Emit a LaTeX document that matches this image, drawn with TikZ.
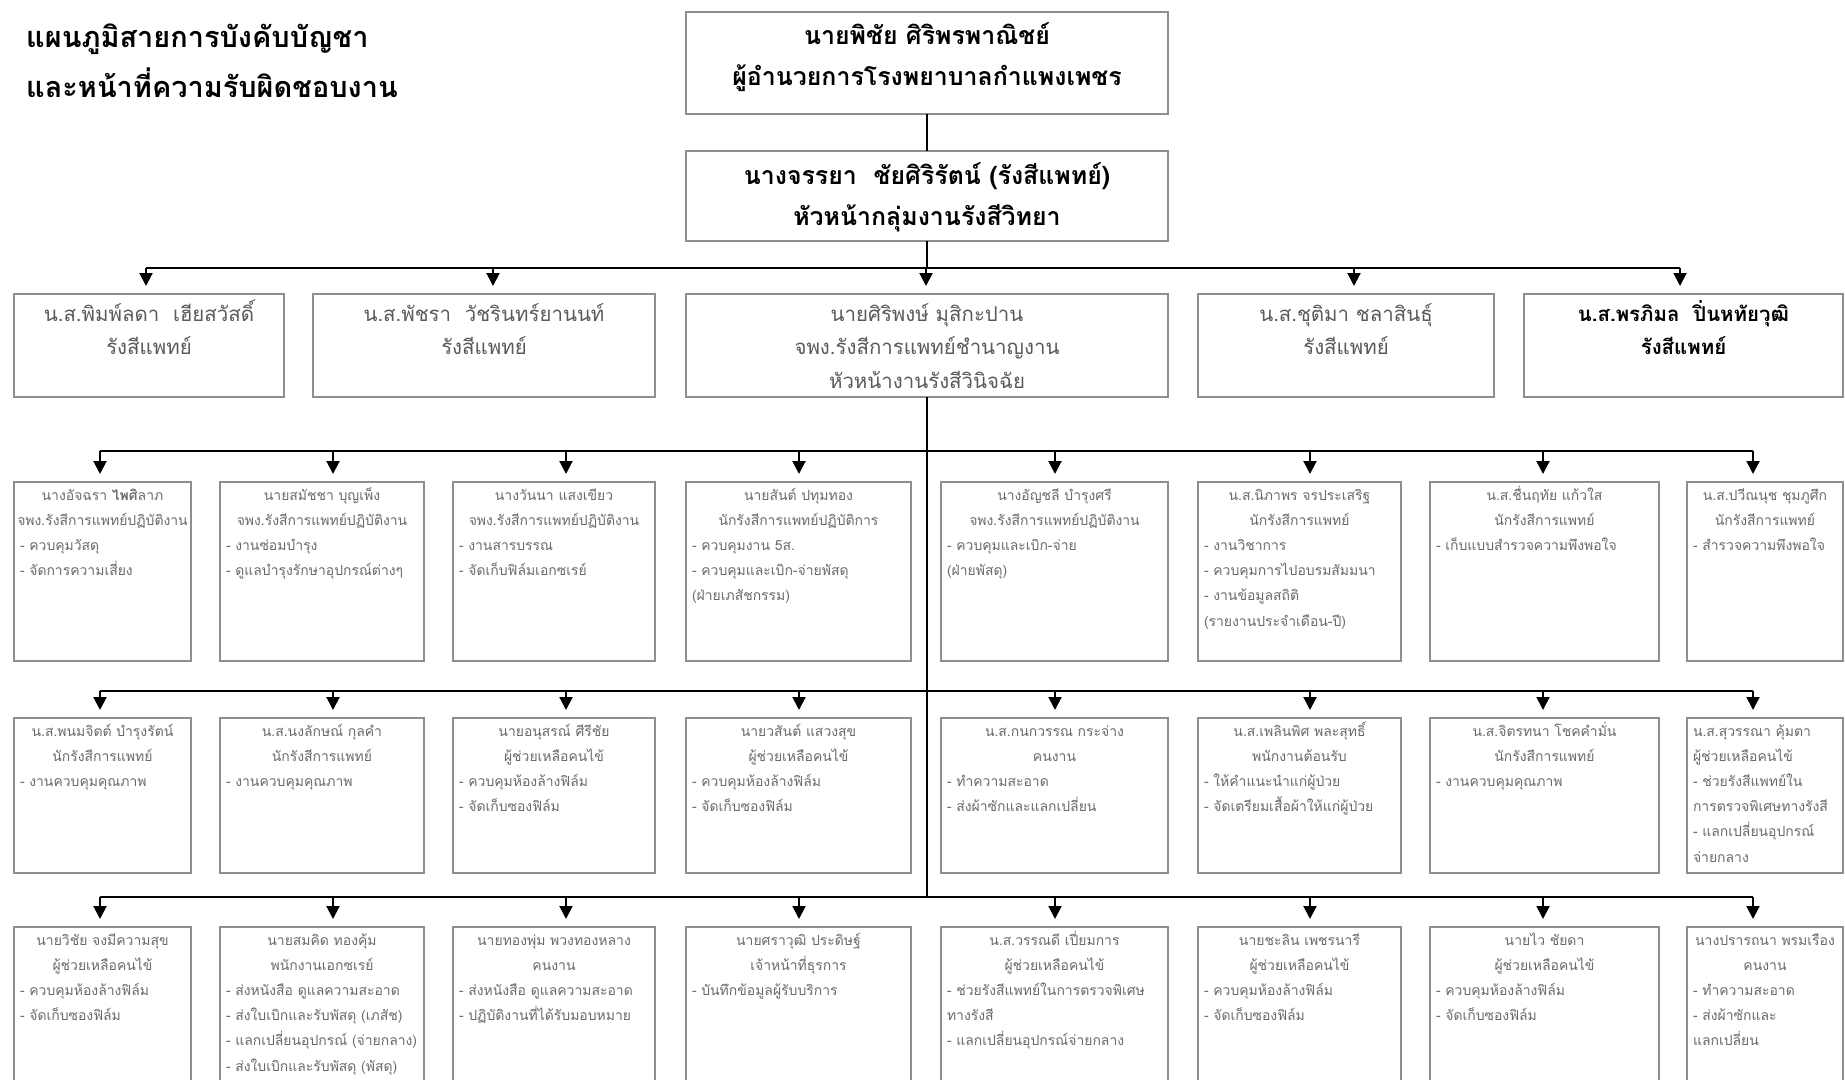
\documentclass[tikz,border=0pt]{standalone}
\usepackage{fontspec}
\setmainfont[Script=Thai]{Loma}
\usetikzlibrary{arrows.meta}

\definecolor{boxgray}{HTML}{8E8E8E}
\definecolor{midgray}{HTML}{5A5A5A}
\definecolor{smallgray}{HTML}{6A6A6A}

\tikzset{
  bus/.style={line width=2bp, draw=black},
  drop/.style={line width=2bp, draw=black, -{Triangle[width=13bp,length=13bp]}, shorten >=8bp},
  cellbox/.style={draw=boxgray, line width=1.6bp, inner sep=0pt, outer sep=0pt, anchor=north west, fill=white},
}

% text settings
\newcommand\titlefont{\fontsize{29}{50}\selectfont\bfseries}
\newcommand\headfont{\fontsize{25}{42}\selectfont\bfseries}
\newcommand\unitfont{\color{midgray}\fontsize{20.5}{34}\selectfont}
\newcommand\staffont{\color{smallgray}\fontsize{14}{25.3}\selectfont}

% large box: name, left, top, width, height, font, first baseline, centred lines
\newcommand\bigcell[8]{%
  \node[cellbox] (#1) at (#2,#3)
    {\parbox[t][#5bp][t]{#4bp}{#6\centering\rule{0pt}{#7bp}#8\par}};}

% staff box: name, left, top, width, height, centred header, list
\newcommand\staff[7]{%
  \node[cellbox] (#1) at (#2,#3)
    {\parbox[t][#5bp][t]{#4bp}{\staffont
      {\centering\rule{0pt}{18bp}#6\par}%
      {\raggedright\leftskip=6bp\relax #7\par}}};}

% staff box with every line flush left
\newcommand\staffleft[6]{%
  \node[cellbox] (#1) at (#2,#3)
    {\parbox[t][#5bp][t]{#4bp}{\staffont
      {\raggedright\leftskip=6bp\relax\rule{0pt}{18bp}#6\par}}};}

\begin{document}
\begin{tikzpicture}[x=1bp,y=-1bp]
\useasboundingbox (0,0) rectangle (1845,1079);
\clip (0,0) rectangle (1845,1079);

% heading
\node[anchor=base west, inner sep=0pt] (title1) at (26,47) {\titlefont แผนภูมิสายการบังคับบัญชา};
\node[anchor=base west, inner sep=0pt] (title2) at (26,97) {\titlefont และหน้าที่ความรับผิดชอบงาน};

% director and head of group
\bigcell{dir}{686}{12}{482}{102}{\headfont}{32}{นายพิชัย ศิริพรพาณิชย์\\ผู้อำนวยการโรงพยาบาลกำแพงเพชร}
\bigcell{head}{686}{151}{482}{90}{\headfont}{33}{นางจรรยา\ \ ชัยศิริรัตน์ (รังสีแพทย์)\\หัวหน้ากลุ่มงานรังสีวิทยา}

% radiologists and section head
\bigcell{uA}{14}{294}{270}{103}{\unitfont}{27}{น.ส.พิมพ์ลดา\ \ เฮียสวัสดิ์\\รังสีแพทย์}
\bigcell{uB}{313}{294}{342}{103}{\unitfont}{27}{น.ส.พัชรา\ \ วัชรินทร์ยานนท์\\รังสีแพทย์}
\bigcell{uC}{686}{294}{482}{103}{\unitfont}{27}{นายศิริพงษ์ มุสิกะปาน\\จพง.รังสีการแพทย์ชำนาญงาน\\หัวหน้างานรังสีวินิจฉัย}
\bigcell{uD}{1198}{294}{296}{103}{\unitfont}{27}{น.ส.ชุติมา ชลาสินธุ์\\รังสีแพทย์}
\bigcell{uE}{1524}{294}{319}{103}{\fontsize{20.5}{34}\selectfont\bfseries}{27}{น.ส.พรภิมล\ \ ปิ่นหทัยวุฒิ\\รังสีแพทย์}

% first staff row
\staff{r1a}{14}{482}{177}{179}{นางอัจฉรา \textbf{ไพศิ}ลาภ\\จพง.รังสีการแพทย์ปฏิบัติงาน}{- ควบคุมวัสดุ\\- จัดการความเสี่ยง}
\staff{r1b}{220}{482}{204}{179}{นายสมัชชา บุญเพ็ง\\จพง.รังสีการแพทย์ปฏิบัติงาน}{- งานซ่อมบำรุง\\- ดูแลบำรุงรักษาอุปกรณ์ต่างๆ}
\staff{r1c}{453}{482}{202}{179}{นางวันนา แสงเขียว\\จพง.รังสีการแพทย์ปฏิบัติงาน}{- งานสารบรรณ\\- จัดเก็บฟิล์มเอกซเรย์}
\staff{r1d}{686}{482}{225}{179}{นายสันต์ ปทุมทอง\\นักรังสีการแพทย์ปฏิบัติการ}{- ควบคุมงาน 5ส.\\- ควบคุมและเบิก-จ่ายพัสดุ\\(ฝ่ายเภสัชกรรม)}
\staff{r1e}{941}{482}{227}{179}{นางอัญชลี บำรุงศรี\\จพง.รังสีการแพทย์ปฏิบัติงาน}{- ควบคุมและเบิก-จ่าย\\(ฝ่ายพัสดุ)}
\staff{r1f}{1198}{482}{203}{179}{น.ส.นิภาพร จรประเสริฐ\\นักรังสีการแพทย์}{- งานวิชาการ\\- ควบคุมการไปอบรมสัมมนา\\- งานข้อมูลสถิติ\\(รายงานประจำเดือน-ปี)}
\staff{r1g}{1430}{482}{229}{179}{น.ส.ชื่นฤทัย แก้วใส\\นักรังสีการแพทย์}{- เก็บแบบสำรวจความพึงพอใจ}
\staff{r1h}{1687}{482}{156}{179}{น.ส.ปวีณนุช ชุมภูศึก\\นักรังสีการแพทย์}{- สำรวจความพึงพอใจ}

% second staff row
\staff{r2a}{14}{718}{177}{155}{น.ส.พนมจิตต์ บำรุงรัตน์\\นักรังสีการแพทย์}{- งานควบคุมคุณภาพ}
\staff{r2b}{220}{718}{204}{155}{น.ส.นงลักษณ์ กุลคำ\\นักรังสีการแพทย์}{- งานควบคุมคุณภาพ}
\staff{r2c}{453}{718}{202}{155}{นายอนุสรณ์ ศีรีชัย\\ผู้ช่วยเหลือคนไข้}{- ควบคุมห้องล้างฟิล์ม\\- จัดเก็บซองฟิล์ม}
\staff{r2d}{686}{718}{225}{155}{นายวสันต์ แสวงสุข\\ผู้ช่วยเหลือคนไข้}{- ควบคุมห้องล้างฟิล์ม\\- จัดเก็บซองฟิล์ม}
\staff{r2e}{941}{718}{227}{155}{น.ส.กนกวรรณ กระจ่าง\\คนงาน}{- ทำความสะอาด\\- ส่งผ้าซักและแลกเปลี่ยน}
\staff{r2f}{1198}{718}{203}{155}{น.ส.เพลินพิศ พละสุทธิ์\\พนักงานต้อนรับ}{- ให้คำแนะนำแก่ผู้ป่วย\\- จัดเตรียมเสื้อผ้าให้แก่ผู้ป่วย}
\staff{r2g}{1430}{718}{229}{155}{น.ส.จิตรทนา โชคคำมั่น\\นักรังสีการแพทย์}{- งานควบคุมคุณภาพ}
\staffleft{r2h}{1687}{718}{156}{155}{น.ส.สุวรรณา คุ้มตา\\ผู้ช่วยเหลือคนไข้\\- ช่วยรังสีแพทย์ใน\\การตรวจพิเศษทางรังสี\\- แลกเปลี่ยนอุปกรณ์\\จ่ายกลาง}

% third staff row
\staff{r3a}{14}{927}{177}{170}{นายวิชัย จงมีความสุข\\ผู้ช่วยเหลือคนไข้}{- ควบคุมห้องล้างฟิล์ม\\- จัดเก็บซองฟิล์ม}
\staff{r3b}{220}{927}{204}{170}{นายสมคิด ทองคุ้ม\\พนักงานเอกซเรย์}{- ส่งหนังสือ ดูแลความสะอาด\\- ส่งใบเบิกและรับพัสดุ (เภสัช)\\- แลกเปลี่ยนอุปกรณ์ (จ่ายกลาง)\\- ส่งใบเบิกและรับพัสดุ (พัสดุ)}
\staff{r3c}{453}{927}{202}{170}{นายทองพุ่ม พวงทองหลาง\\คนงาน}{- ส่งหนังสือ ดูแลความสะอาด\\- ปฏิบัติงานที่ได้รับมอบหมาย}
\staff{r3d}{686}{927}{225}{170}{นายศราวุฒิ ประดิษฐ์\\เจ้าหน้าที่ธุรการ}{- บันทึกข้อมูลผู้รับบริการ}
\staff{r3e}{941}{927}{227}{170}{น.ส.วรรณดี เปี่ยมการ\\ผู้ช่วยเหลือคนไข้}{- ช่วยรังสีแพทย์ในการตรวจพิเศษ\\ทางรังสี\\- แลกเปลี่ยนอุปกรณ์จ่ายกลาง}
\staff{r3f}{1198}{927}{203}{170}{นายชะลิน เพชรนารี\\ผู้ช่วยเหลือคนไข้}{- ควบคุมห้องล้างฟิล์ม\\- จัดเก็บซองฟิล์ม}
\staff{r3g}{1430}{927}{229}{170}{นายไว ชัยดา\\ผู้ช่วยเหลือคนไข้}{- ควบคุมห้องล้างฟิล์ม\\- จัดเก็บซองฟิล์ม}
\staff{r3h}{1687}{927}{156}{170}{นางปรารถนา พรมเรือง\\คนงาน}{- ทำความสะอาด\\- ส่งผ้าซักและ\\แลกเปลี่ยน}

% chain of command from the top
\draw[bus] (dir.south) -- (head.north);
\coordinate (hub0) at (head.south |- 0,268);
\draw[bus] (head.south) -- (hub0);
\coordinate (bus0west) at (146,268);
\coordinate (bus0east) at (1680,268);
\draw[bus] (bus0west) -- (bus0east);
\foreach \n/\x in {uA/146, uB/493, uC/926, uD/1354, uE/1680}{
  \coordinate (drop\n) at (\x,268);
  \draw[drop] (drop\n) -- (drop\n |- \n.north);
}

% trunk below the section head and the three staff rows
\coordinate (trunkend) at (uC.south |- 0,897);
\draw[bus] (uC.south) -- (trunkend);
\foreach \r/\y in {r1/451, r2/691, r3/897}{
  \coordinate (bus-\r-west) at (100,\y);
  \coordinate (bus-\r-east) at (1753,\y);
  \draw[bus] (bus-\r-west) -- (bus-\r-east);
  \foreach \c/\x in {a/100, b/333, c/566, d/799, e/1055, f/1310, g/1543, h/1753}{
    \coordinate (tap-\r-\c) at (\x,\y);
    \draw[drop] (tap-\r-\c) -- (tap-\r-\c |- \r\c.north);
  }
}
\end{tikzpicture}
\end{document}
